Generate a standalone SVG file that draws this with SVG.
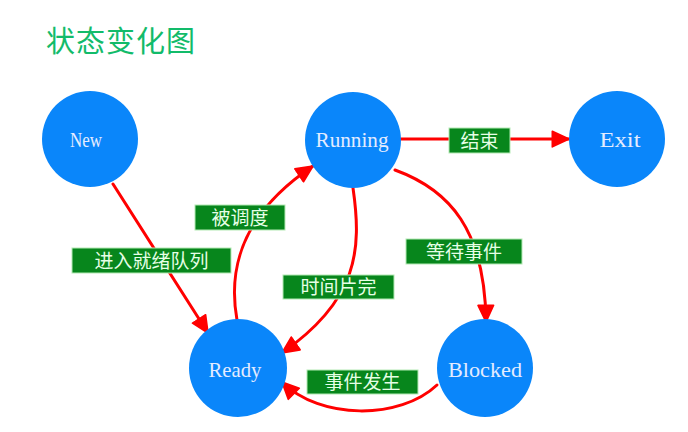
<svg xmlns="http://www.w3.org/2000/svg" width="688" height="432" viewBox="0 0 688 432">
<style>
.node{fill:#0a86fa}
.nt{font-family:"Liberation Serif","DejaVu Serif",serif;font-size:21px;fill:#e4ecff;text-anchor:middle}
.edge{fill:none;stroke:#ff0000;stroke-width:3;stroke-linecap:round}
.lb{fill:#07861c;stroke:#b4eab4;stroke-width:1}
.lt{font-family:"Noto Sans CJK SC","Noto Sans",sans-serif;font-size:19px;fill:#e6ffe6;text-anchor:middle}
.title{font-family:"Noto Sans CJK SC","Noto Sans",sans-serif;font-size:29px;fill:#12bb6a;letter-spacing:1px}
</style>
<defs>
<marker id="ah" markerUnits="userSpaceOnUse" markerWidth="20" markerHeight="20" viewBox="-1 -1 18 16" refX="15" refY="7" orient="auto">
<path d="M0,0 L15,7 L0,14 z" fill="#ff0000" stroke="#ff0000" stroke-width="1.5" stroke-linejoin="round"/>
</marker>
</defs>
<rect width="688" height="432" fill="#ffffff"/>
<text class="title" x="46" y="52">状态变化图</text>

<g id="connectors">
<path class="edge" d="M401 139 L569 139" marker-end="url(#ah)"/>
<path class="edge" d="M113 184 L208 333" marker-end="url(#ah)"/>
<path class="edge" d="M237 320 C228 270 240 215 313 166" marker-end="url(#ah)"/>
<path class="edge" d="M353 188 C362 250 358 300 282 353" marker-end="url(#ah)"/>
<path class="edge" d="M395 170 C450 190 485 230 486 322" marker-end="url(#ah)"/>
<path class="edge" d="M437 385 C400 420 320 420 282 382" marker-end="url(#ah)"/>
</g>

<g id="labels">
<g id="label-end"><rect class="lb" x="449" y="128" width="61" height="25"/><text class="lt" x="479.5" y="147.5">结束</text></g>
<g id="label-dispatch"><rect class="lb" x="195" y="205" width="90" height="25"/><text class="lt" x="240" y="224.5">被调度</text></g>
<g id="label-admit"><rect class="lb" x="72" y="248" width="159" height="25"/><text class="lt" x="151.5" y="267.5">进入就绪队列</text></g>
<g id="label-wait"><rect class="lb" x="406" y="239" width="116" height="25"/><text class="lt" x="464" y="258.5">等待事件</text></g>
<g id="label-timeout"><rect class="lb" x="283" y="275" width="111" height="24"/><text class="lt" x="338.5" y="294">时间片完</text></g>
<g id="label-event"><rect class="lb" x="307" y="370" width="111" height="24"/><text class="lt" x="362.5" y="389">事件发生</text></g>
</g>

<g id="node-new"><ellipse class="node" cx="90" cy="139" rx="48" ry="48"/><text class="nt" x="86" y="147" textLength="32" lengthAdjust="spacingAndGlyphs">New</text></g>
<g id="node-running"><ellipse class="node" cx="353" cy="140" rx="48" ry="48"/><text class="nt" x="352" y="147" textLength="73" lengthAdjust="spacingAndGlyphs">Running</text></g>
<g id="node-exit"><ellipse class="node" cx="617" cy="139" rx="48" ry="48"/><text class="nt" x="620" y="147" textLength="41" lengthAdjust="spacingAndGlyphs">Exit</text></g>
<g id="node-ready"><ellipse class="node" cx="238" cy="368" rx="49" ry="49"/><text class="nt" x="235" y="377" textLength="53" lengthAdjust="spacingAndGlyphs">Ready</text></g>
<g id="node-blocked"><ellipse class="node" cx="485" cy="368" rx="48" ry="49"/><text class="nt" x="485" y="377" textLength="74" lengthAdjust="spacingAndGlyphs">Blocked</text></g>
</svg>
